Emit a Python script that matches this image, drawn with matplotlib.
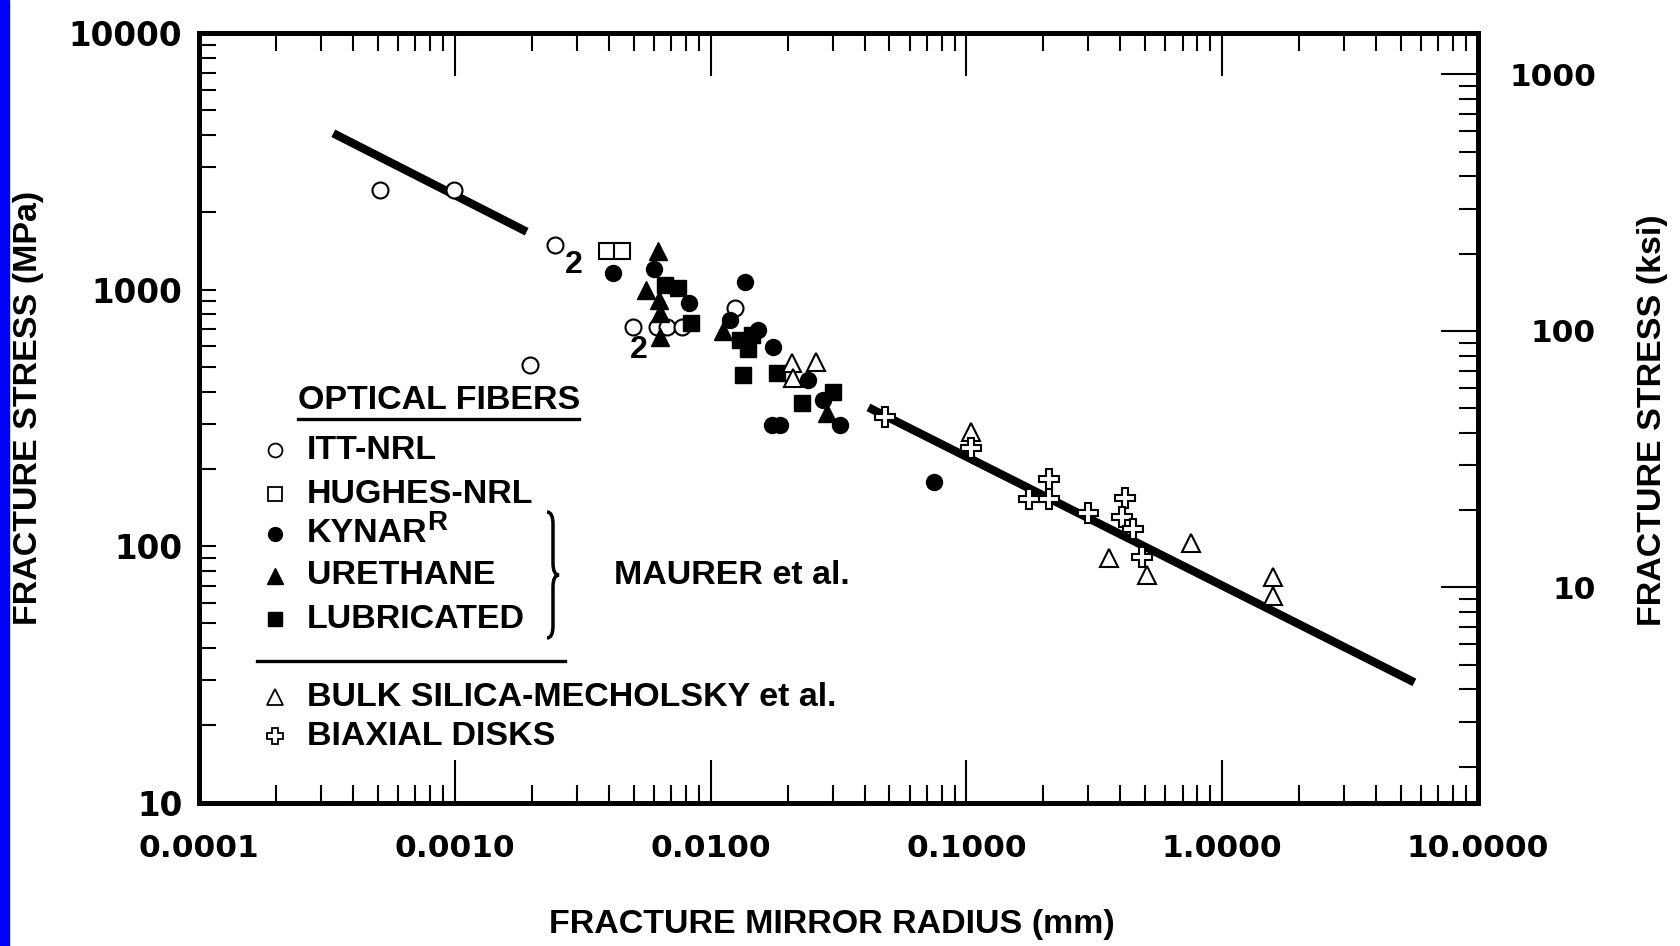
import numpy as np
import matplotlib
matplotlib.use("Agg")
import matplotlib.pyplot as plt
from matplotlib.lines import Line2D
from matplotlib.patches import Rectangle, PathPatch
from matplotlib.path import Path
from matplotlib.ticker import NullFormatter

# Fracture mirror radius (mm) vs fracture stress (MPa)
itt_x = [0.00051, 0.00099, 0.00247, 0.00197, 0.00499, 0.00617, 0.00674, 0.00773, 0.01245]
itt_y = [2440, 2450, 1490, 508, 716, 716, 716, 714, 845]

hughes_x = [0.00394, 0.00449]
hughes_y = [1419, 1419]

kynar_x = [0.00417, 0.00601, 0.00823, 0.01363, 0.0119, 0.01532, 0.01758,
           0.0241, 0.0276, 0.01734, 0.01867, 0.03206, 0.0747]
kynar_y = [1163, 1199, 884, 1068, 760, 695, 598, 444, 371, 296, 296, 296, 178]

urethane_x = [0.00625, 0.00559, 0.00629, 0.00634, 0.00634, 0.01121, 0.02843]
urethane_y = [1413, 996, 910, 813, 655, 689, 330]

lub_x = [0.00663, 0.00746, 0.00838, 0.01303, 0.01448, 0.0140, 0.01342, 0.01823, 0.0227, 0.0302]
lub_y = [1041, 1013, 743, 635, 665, 586, 464, 471, 360, 398]

bulk_x = [0.02075, 0.02584, 0.02105, 0.104, 0.362, 0.507, 0.755, 1.576, 1.576]
bulk_y = [516, 523, 451, 279, 89.6, 77.1, 102.5, 75.9, 63.9]

disk_x = [0.0479, 0.104, 0.211, 0.176, 0.211, 0.300, 0.417, 0.405, 0.447, 0.485]
disk_y = [318, 240, 182, 153, 153, 134, 153.5, 130, 117, 90.8]

# fitted line, drawn in two pieces
fit_x = [[3.35e-4, 1.91e-3], [0.0414, 5.64]]
fit_y = [[4064, 1680], [347, 29.4]]

# "2" = two coincident points
count_x = [0.00291, 0.00525]
count_y = [1246, 581]

x_ticks = [1e-4, 1e-3, 1e-2, 1e-1, 1, 10]
x_ticklabels = ["0.0001", "0.0010", "0.0100", "0.1000", "1.0000", "10.0000"]
y_ticks = [10, 100, 1000, 10000]
y_ticklabels = ["10", "100", "1000", "10000"]
ksi_ticks = [10, 100, 1000]
ksi_ticklabels = ["10", "100", "1000"]
MPA_PER_KSI = 6.895

W, H = 1680, 946
TXT = ["Liberation Sans", "DejaVu Sans"]
TICK = ["DejaVu Sans"]


def px(x, y):
    return x / W, 1 - y / H


fig = plt.figure(figsize=(W / 100, H / 100), dpi=100)
fig.patch.set_facecolor("white")
fig.add_artist(Rectangle((0, 0), 9 / W, 1, transform=fig.transFigure,
                         color="#0000ff", zorder=0))

left, right, top, bottom = 199, 1478, 33, 802.5
ax = fig.add_axes([left / W, 1 - bottom / H, (right - left) / W, (bottom - top) / H])
ax.set_xscale("log")
ax.set_yscale("log")
ax.set_xlim(1e-4, 10)
ax.set_ylim(10, 10000)

for xs, ys in zip(fit_x, fit_y):
    ax.plot(xs, ys, color="black", lw=6, solid_capstyle="butt", zorder=2)

ms = 11.5
ax.plot(itt_x, itt_y, "o", ms=ms, mfc="white", mec="black", mew=1.5, zorder=3)
ax.plot(hughes_x, hughes_y, "s", ms=ms, mfc="white", mec="black", mew=1.5, zorder=3)
ax.plot(lub_x, lub_y, "s", ms=ms, color="black", zorder=4)
ax.plot(kynar_x, kynar_y, "o", ms=ms, color="black", zorder=4)
ax.plot(urethane_x, urethane_y, "^", ms=ms + 1, color="black", zorder=4)
ax.plot(bulk_x, bulk_y, "^", ms=ms + 2, mfc="white", mec="black", mew=1.5, zorder=5)
ax.plot(disk_x, disk_y, "P", ms=ms + 3, mfc="white", mec="black", mew=1.5, zorder=5)

for cx, cy in zip(count_x, count_y):
    ax.text(cx, cy, "2", family=TXT, weight="bold", fontsize=23, ha="center", va="center")

for s in ax.spines.values():
    s.set_linewidth(3.5)

ax.set_xticks(x_ticks)
ax.set_xticklabels(x_ticklabels)
ax.set_yticks(y_ticks)
ax.set_yticklabels(y_ticklabels)
ax.xaxis.set_minor_formatter(NullFormatter())
ax.yaxis.set_minor_formatter(NullFormatter())
ax.tick_params(axis="x", which="major", direction="in", length=31, width=1.5,
               top=True, bottom=True, pad=23, labelsize=22.5)
ax.tick_params(axis="x", which="minor", direction="in", length=13, width=1.5,
               top=True, bottom=True)
ax.tick_params(axis="y", which="both", direction="in", length=12, width=1.5,
               left=True, right=False, pad=12, labelsize=23.5)
for lab in ax.get_xticklabels() + ax.get_yticklabels():
    lab.set_family(TICK)
    lab.set_weight("bold")

ax2 = ax.twinx()
ax2.set_yscale("log")
ax2.set_ylim(10 / MPA_PER_KSI, 10000 / MPA_PER_KSI)
ax2.set_yticks(ksi_ticks)
ax2.set_yticklabels(ksi_ticklabels)
ax2.yaxis.set_minor_formatter(NullFormatter())
ax2.tick_params(axis="y", which="major", direction="in", length=27, width=1.5, pad=85, labelsize=22.5)
ax2.tick_params(axis="y", which="minor", direction="in", length=14, width=1.5)
for lab in ax2.get_yticklabels():
    lab.set_family(TICK)
    lab.set_weight("bold")
    lab.set_ha("right")
for s in ax2.spines.values():
    s.set_linewidth(3.5)

# axis titles
fs = 24.5
fig.text(*px(832, 924), "FRACTURE MIRROR RADIUS (mm)", family=TXT, weight="bold",
         fontsize=fs, ha="center", va="center")
fig.text(*px(29, 408), "FRACTURE STRESS (MPa)", family=TXT, weight="bold",
         fontsize=fs, ha="center", va="center", rotation=90)
fig.text(*px(1653, 420), "FRACTURE STRESS (ksi)", family=TXT, weight="bold",
         fontsize=fs, ha="center", va="center", rotation=90)

# hand-made legend
fig.text(*px(298, 400), "OPTICAL FIBERS", family=TXT, weight="bold", fontsize=fs,
         ha="left", va="center")
fig.add_artist(Line2D([298 / W, 579 / W], [1 - 419 / H] * 2, color="black", lw=2.4,
                      transform=fig.transFigure))
fig.add_artist(Line2D([257 / W, 565 / W], [1 - 661 / H] * 2, color="black", lw=2.4,
                      transform=fig.transFigure))

legend_rows = [
    (450, "ITT-NRL", dict(marker="o", mfc="white", mec="black", mew=1.3, ms=10)),
    (494, "HUGHES-NRL", dict(marker="s", mfc="white", mec="black", mew=1.3, ms=10)),
    (534, "KYNAR", dict(marker="o", color="black", ms=10)),
    (576, "URETHANE", dict(marker="^", color="black", ms=11)),
    (619, "LUBRICATED", dict(marker="s", color="black", ms=10)),
    (697, "BULK SILICA-MECHOLSKY et al.", dict(marker="^", mfc="white", mec="black", mew=1.3, ms=12)),
    (736, "BIAXIAL DISKS", dict(marker="P", mfc="white", mec="black", mew=1.3, ms=12)),
]
for ry, label, style in legend_rows:
    mx, my = px(275, ry)
    fig.add_artist(Line2D([mx], [my], linestyle="none", transform=fig.transFigure, **style))
    fig.text(*px(307, ry), label, family=TXT, weight="bold", fontsize=fs, ha="left", va="center")
fig.text(*px(427, 523), "R", family=TXT, weight="bold", fontsize=20, ha="left", va="center")

# curly brace
bx, bw, bt, bb = 547, 12, 512, 638
bm = (bt + bb) / 2
h, r = bw / 2, 12
pts = [(bx, bt), (bx + h, bt), (bx + h, bt + r), (bx + h, bm - r),
       (bx + h, bm), (bx + bw, bm), (bx + h, bm), (bx + h, bm + r),
       (bx + h, bb - r), (bx + h, bb), (bx, bb)]
codes = [Path.MOVETO, Path.CURVE3, Path.CURVE3, Path.LINETO,
         Path.CURVE3, Path.CURVE3, Path.CURVE3, Path.CURVE3,
         Path.LINETO, Path.CURVE3, Path.CURVE3]
brace = Path([px(x, y) for x, y in pts], codes)
fig.add_artist(PathPatch(brace, fill=False, lw=2.5, color="black", transform=fig.transFigure))

fig.text(*px(614, 576), "MAURER et al.", family=TXT, weight="bold", fontsize=fs,
         ha="left", va="center")

fig.savefig("out.png", dpi=100, facecolor="white")
